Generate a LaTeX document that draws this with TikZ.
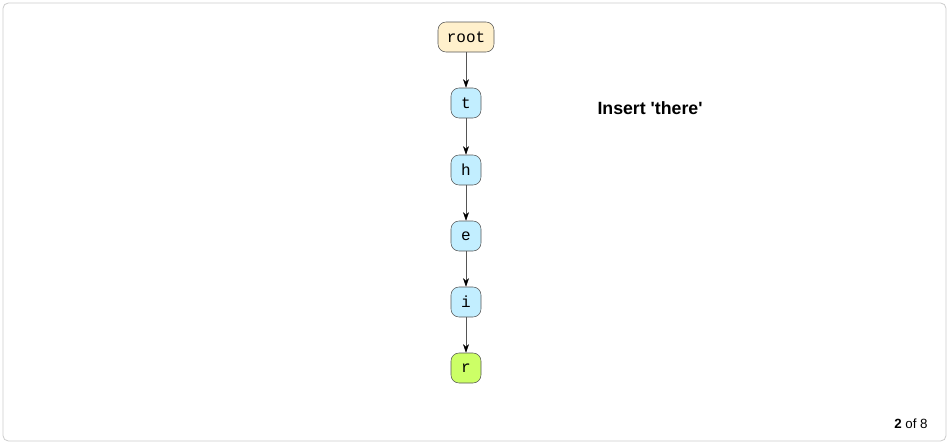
\documentclass[tikz,border=0pt]{standalone}
\usepackage{fontspec}
\setmainfont{Liberation Sans}
\setmonofont{Liberation Mono}
\usepackage{xcolor}
\usetikzlibrary{arrows.meta}

\definecolor{rootfill}{HTML}{FFF0CC}
\definecolor{keyfill}{HTML}{C2EEFF}
\definecolor{endfill}{HTML}{CCFF66}
\definecolor{edgegray}{HTML}{555555}
\definecolor{framegray}{HTML}{CCCCCC}

\begin{document}
\begin{tikzpicture}[x=0.75pt,y=-0.75pt,>={Stealth[length=6.5pt,width=4.5pt,black]},semithick]
    \tikzstyle{trie}=[shape=rectangle, rounded corners=6pt, draw=edgegray, thin, font=\ttfamily\fontsize{12}{14}\selectfont, minimum height=22.5pt, minimum width=22.5pt, inner sep=2pt]
    \tikzstyle{edge}=[->, draw=edgegray, thin]
    \useasboundingbox (0,0) rectangle (949,447);
	\draw[framegray, rounded corners=4pt] (3,3) rectangle (946,441);
	\node[trie, fill=rootfill, minimum width=42pt] (root) at (466, 37) {root};
	\node[trie, fill=keyfill] (t) at (466, 103) {t};
	\node[trie, fill=keyfill] (h) at (466, 170) {h};
	\node[trie, fill=keyfill] (e) at (466, 236) {e};
	\node[trie, fill=keyfill] (i) at (466, 302) {i};
	\node[trie, fill=endfill] (r) at (466, 368) {r};
	%\path (root) edge (t)
	\draw [edge] (root) -- (t);
	\draw [edge] (t) -- (h);
	\draw [edge] (h) -- (e);
	\draw [edge] (e) -- (i);
	\draw [edge] (i) -- (r);

	\node [font=\bfseries\fontsize{13.3}{15}\selectfont] (title) at (650, 108) {Insert \textquotesingle there\textquotesingle};
	\node [left, font=\fontsize{10}{12}\selectfont, inner sep=0pt] (page) at (928, 424) {\textbf{2} of 8};
    \end{tikzpicture}
\end{document}
